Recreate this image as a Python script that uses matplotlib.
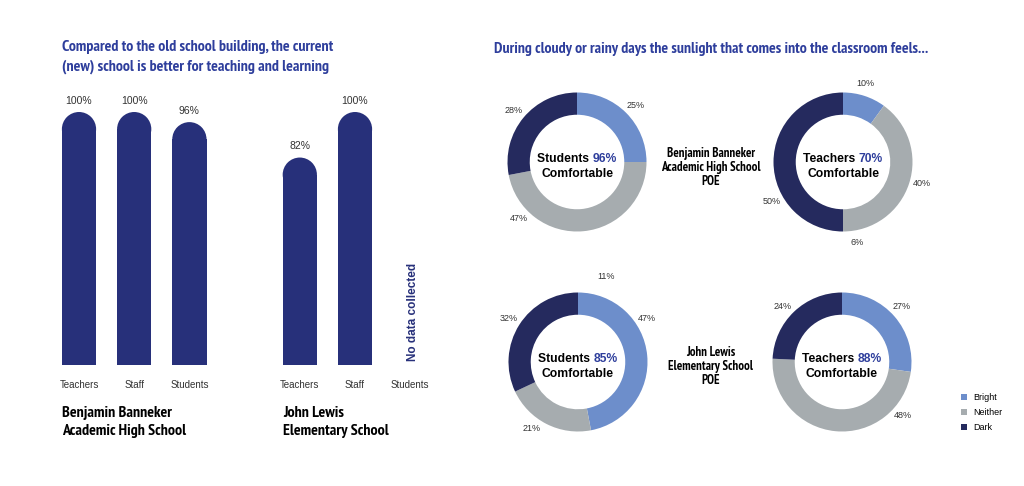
import matplotlib
matplotlib.use("Agg")
import matplotlib.pyplot as plt
from matplotlib.patches import Ellipse, Patch
from matplotlib.offsetbox import TextArea, HPacker, VPacker, AnnotationBbox
from matplotlib import font_manager
from matplotlib.font_manager import FontProperties
import numpy as np

# ---------------- data ----------------
bar_categories = ["Teachers", "Staff", "Students", "Teachers", "Staff", "Students"]
bar_values = [100, 100, 96, 82, 100, None]          # None = no data collected
bar_schools = ["Benjamin Banneker\nAcademic High School", "John Lewis\nElementary School"]

donut_segments = ["Bright", "Neither", "Dark"]
donut_titles = ["Students", "Teachers", "Students", "Teachers"]
donut_comfortable = ["96%", "70%", "85%", "88%"]
donut_values = [
    [25, 47, 28],
    [10, 40, 50],
    [47, 21, 32],
    [27, 48, 24],
]
donut_labels = [
    ["25%", "47%", "28%"],
    ["10%", "40%", "50%", "6%"],
    ["11%", "47%", "32%", "21%"],
    ["27%", "48%", "24%"],
]
donut_middle_labels = ["Benjamin Banneker\nAcademic High School\nPOE",
                       "John Lewis\nElementary School\nPOE"]

title_left = "Compared to the old school building, the current\n(new) school is better for teaching and learning"
title_right = "During cloudy or rainy days the sunlight that comes into the classroom feels..."

# ---------------- style ----------------
W, H = 1024, 486
BAR_COLOR = "#27307a"
TITLE_BLUE = "#2e3e9c"
SEG_COLORS = ["#6d8ecb", "#a6acaf", "#252a5e"]
TEXT_DARK = "#333333"

names = {f.name for f in font_manager.fontManager.ttflist}
REG = "Liberation Sans" if "Liberation Sans" in names else "DejaVu Sans"

# look for a condensed / narrow bold face
cond_path = None
cands = []
for f in font_manager.fontManager.ttflist:
    key = (f.name + " " + f.fname).lower()
    if ("condensed" in key or "narrow" in key) and "semi" not in key and "extra" not in key \
            and "italic" not in key and "oblique" not in key:
        w = f.weight if isinstance(f.weight, int) else 400
        if w >= 600:
            cands.append(f.fname)
if cands:
    cands.sort(key=lambda p: (0 if "Narrow" in p else 1 if "DejaVu" in p else 2, p))
    cond_path = cands[0]


def cond_fp(size):
    if cond_path:
        return FontProperties(fname=cond_path, size=size)
    return FontProperties(family="Roboto", weight="bold", size=size * 0.82)


fig = plt.figure(figsize=(W / 100, H / 100), dpi=100)
fig.patch.set_facecolor("white")


def px_axes(x0, y0, w, h):
    return fig.add_axes([x0 / W, 1 - (y0 + h) / H, w / W, h / H])


# ---------------- bar chart ----------------
positions = [0, 1, 2, 4, 5, 6]
bar_w = 0.62
ax = px_axes(51.4, 112, 386.4, 253)
ax.set_xlim(-0.5, 6.5)
ax.set_ylim(0, 100)
for s in ax.spines.values():
    s.set_visible(False)
ax.set_yticks([])
ax.set_xticks(positions)
ax.set_xticklabels(bar_categories, fontsize=7, family=REG, color=TEXT_DARK)
ax.tick_params(axis="x", length=0, pad=11)

p0 = ax.transData.transform((0, 0))
p1 = ax.transData.transform((1, 1))
px_x = p1[0] - p0[0]
px_y = p1[1] - p0[1]
ry = (bar_w / 2) * px_x / px_y

for pos, v in zip(positions, bar_values):
    if v is None:
        ax.text(pos + 0.05, 21, "No data collected", rotation=90, ha="center", va="center",
                fontsize=8.5, fontweight="bold", family=REG, color=BAR_COLOR)
        continue
    ax.bar(pos, v - ry, width=bar_w, color=BAR_COLOR, linewidth=0)
    ax.add_patch(Ellipse((pos, v - ry), bar_w, 2 * ry, color=BAR_COLOR, linewidth=0))
    ax.text(pos, v + 2.5, f"{v}%", ha="center", va="bottom", fontsize=7.5,
            family=REG, color=TEXT_DARK, clip_on=False)

for xpx, lab in zip([62, 283], bar_schools):
    fig.text(xpx / W, 1 - 405.5 / H, lab, ha="left", va="top", fontproperties=cond_fp(11.5),
             color="black", linespacing=1.42)

fig.text(62 / W, 1 - 40 / H, title_left, ha="left", va="top", fontproperties=cond_fp(11.4),
         color=TITLE_BLUE, linespacing=1.45)
fig.text(494 / W, 1 - 42 / H, title_right, ha="left", va="top", fontproperties=cond_fp(11.35),
         color=TITLE_BLUE)

# ---------------- donuts ----------------
R_PX = 69.5
LIM = 1.4
centers = [(577, 162), (843, 162), (578, 362), (842, 362)]
label_angles = [
    [44, 224, 141],
    [74, -15, 209, -80],
    [72, 32, 148, 235],
    [43, -41, 137],
]
label_radius = 1.17

for i, (cx, cy) in enumerate(centers):
    size = 2 * LIM * R_PX
    dax = px_axes(cx - size / 2, cy - size / 2, size, size)
    dax.pie(donut_values[i], colors=SEG_COLORS, startangle=90, counterclock=False,
            radius=1, wedgeprops=dict(width=0.32, linewidth=0))
    dax.set_xlim(-LIM, LIM)
    dax.set_ylim(-LIM, LIM)
    dax.set_aspect("equal")
    dax.axis("off")
    for lab, ang in zip(donut_labels[i], label_angles[i]):
        r = label_radius if i != 2 or lab != "11%" else 1.3
        a = np.deg2rad(ang)
        dax.text(r * np.cos(a), r * np.sin(a), lab, ha="center", va="center",
                 fontsize=6.5, family=REG, color=TEXT_DARK)
    t1 = TextArea(donut_titles[i] + " ", textprops=dict(fontsize=8.7, fontweight="bold",
                                                        family=REG, color="black"))
    t2 = TextArea(donut_comfortable[i], textprops=dict(fontsize=8.7, fontweight="bold",
                                                       family=REG, color="#2e3e9c"))
    row1 = HPacker(children=[t1, t2], align="baseline", pad=0, sep=0)
    row2 = TextArea("Comfortable", textprops=dict(fontsize=8.7, fontweight="bold",
                                                  family=REG, color="black"))
    box = VPacker(children=[row1, row2], align="center", pad=0, sep=2)
    ab = AnnotationBbox(box, (0, -0.06), xycoords="data", frameon=False,
                        box_alignment=(0.5, 0.5))
    dax.add_artist(ab)

for cy, lab in zip([167, 366], donut_middle_labels):
    fig.text(711 / W, 1 - cy / H, lab, ha="center", va="center", fontproperties=cond_fp(9.2),
             color="black", linespacing=1.1)

handles = [Patch(facecolor=c, edgecolor="none", label=l) for c, l in zip(SEG_COLORS, donut_segments)]
leg = fig.legend(handles=handles, loc="upper left", bbox_to_anchor=(953 / W, 1 - 385 / H),
                 frameon=False, handlelength=0.7, handleheight=0.7,
                 handletextpad=0.6, labelspacing=0.65, prop=dict(family=REG, size=6.5))

fig.savefig("out.png", dpi=100, facecolor="white")
